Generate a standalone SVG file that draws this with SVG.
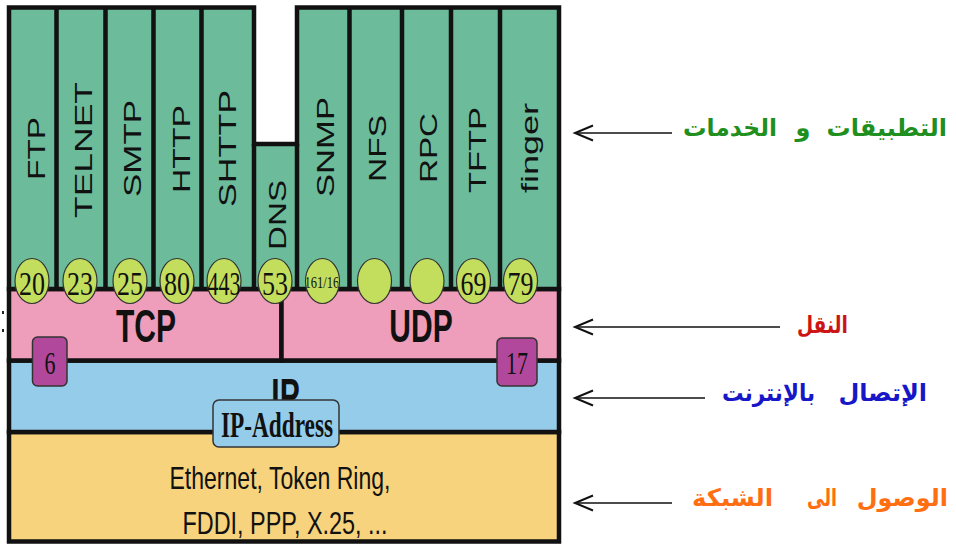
<svg xmlns="http://www.w3.org/2000/svg" width="956" height="546" viewBox="0 0 956 546">
<style>
.lay{stroke:#111;stroke-width:4.5}
.sep{stroke:#111;stroke-width:4.5;fill:none}
.vt{font-family:"Liberation Sans",Arial,sans-serif;font-size:24px;fill:#111;text-anchor:middle}
.port{fill:#c3dd5d;stroke:#333;stroke-width:1.2}
.pn{font-family:"Liberation Serif","Times New Roman",serif;font-size:26px;fill:#111;text-anchor:middle}
.big{font-family:"Liberation Sans",Arial,sans-serif;font-weight:bold;font-size:30px;fill:#111;text-anchor:middle}
.proto{fill:#b2489b;stroke:#333;stroke-width:1.5}
.pnum{font-family:"Liberation Serif","Times New Roman",serif;font-size:22px;fill:#111;text-anchor:middle}
.link{font-family:"Liberation Sans",Arial,sans-serif;font-size:22px;fill:#111;text-anchor:middle}
.ar{font-family:"DejaVu Sans","Noto Sans",sans-serif;font-weight:bold;font-size:24px;text-anchor:middle}
.are{font-family:"DejaVu Sans","Noto Sans",sans-serif;font-weight:bold;font-size:24px;text-anchor:end}
.conn{stroke:#111;stroke-width:1.4;fill:none}
.head{stroke:#111;stroke-width:2;fill:none}
</style>
<defs>
<clipPath id="c161"><ellipse cx="322.5" cy="281" rx="16" ry="21.5"/></clipPath>
<clipPath id="cip"><rect x="200" y="362" width="170" height="38"/></clipPath>
</defs>
<rect x="0" y="0" width="956" height="546" fill="#fff"/>

<g id="link-layer">
<rect class="lay" x="9" y="432" width="550" height="109.5" fill="#f6d37c"/>
<text class="link" transform="translate(280,489) scale(1,1.45)" textLength="221" lengthAdjust="spacingAndGlyphs">Ethernet, Token Ring,</text>
<text class="link" transform="translate(285,534) scale(1,1.45)" textLength="205" lengthAdjust="spacingAndGlyphs">FDDI, PPP, X.25, ...</text>
</g>

<g id="ip-layer">
<rect class="lay" x="9" y="360.5" width="550" height="71.5" fill="#95cce9"/>
<g clip-path="url(#cip)"><text class="big" transform="translate(285.5,411) scale(1,1.55)">IP</text></g>
</g>

<g id="ip-address">
<rect x="213" y="400" width="126" height="47" rx="6" fill="#95cce9" stroke="#333" stroke-width="1.5"/>
<text transform="translate(277,437) scale(1,1.45)" font-family="'Liberation Serif','Times New Roman',serif" font-weight="bold" font-size="25" fill="#111" text-anchor="middle" textLength="112" lengthAdjust="spacingAndGlyphs">IP-Address</text>
</g>

<g id="tcp">
<rect class="lay" x="9" y="289" width="272.5" height="71.5" fill="#ee9dba"/>
<text class="big" transform="translate(146,342) scale(1,1.55)">TCP</text>
</g>
<g id="udp">
<rect class="lay" x="281.5" y="289" width="277.5" height="71.5" fill="#ee9dba"/>
<text class="big" transform="translate(421,342) scale(1,1.55)">UDP</text>
</g>

<g id="proto-6">
<rect class="proto" x="32.5" y="337" width="34.5" height="49" rx="5"/>
<text class="pnum" transform="translate(50,374) scale(1,1.45)">6</text>
</g>
<g id="proto-17">
<rect class="proto" x="497" y="338" width="40" height="48" rx="5"/>
<text class="pnum" transform="translate(517,374) scale(1,1.45)">17</text>
</g>

<g id="application-layer">
<path class="lay" d="M9,7.5 H254 V144 H297 V7.5 H559 V289 H9 Z" fill="#6cbb9b"/>
<path class="sep" d="M56.5,7.5V289 M105.5,7.5V289 M153.5,7.5V289 M201.5,7.5V289 M254,144V289 M297,144V289 M349.5,7.5V289 M402,7.5V289 M451,7.5V289 M500,7.5V289"/>
</g>

<g id="app-ftp"><text class="vt" transform="translate(45,148.5) rotate(-90)" textLength="63" lengthAdjust="spacingAndGlyphs">FTP</text>
<ellipse class="port" cx="32" cy="281" rx="17" ry="22.5"/><text class="pn" transform="translate(32,295) scale(1,1.3)">20</text></g>
<g id="app-telnet"><text class="vt" transform="translate(92,150) rotate(-90)" textLength="136" lengthAdjust="spacingAndGlyphs">TELNET</text>
<ellipse class="port" cx="80" cy="281" rx="17" ry="22.5"/><text class="pn" transform="translate(80,295) scale(1,1.3)">23</text></g>
<g id="app-smtp"><text class="vt" transform="translate(141,148.5) rotate(-90)" textLength="97" lengthAdjust="spacingAndGlyphs">SMTP</text>
<ellipse class="port" cx="130" cy="281" rx="17" ry="22.5"/><text class="pn" transform="translate(130,295) scale(1,1.3)">25</text></g>
<g id="app-http"><text class="vt" transform="translate(190,149) rotate(-90)" textLength="88" lengthAdjust="spacingAndGlyphs">HTTP</text>
<ellipse class="port" cx="177" cy="281" rx="17" ry="22.5"/><text class="pn" transform="translate(177,295) scale(1,1.3)">80</text></g>
<g id="app-shttp"><text class="vt" transform="translate(236,148.5) rotate(-90)" textLength="117" lengthAdjust="spacingAndGlyphs">SHTTP</text>
<ellipse class="port" cx="224" cy="281" rx="17" ry="22.5"/><text class="pn" transform="translate(224,295) scale(1,1.3)" textLength="33" lengthAdjust="spacingAndGlyphs">443</text></g>
<g id="app-dns"><text class="vt" transform="translate(286,215) rotate(-90)" textLength="70" lengthAdjust="spacingAndGlyphs">DNS</text>
<ellipse class="port" cx="275" cy="281" rx="17" ry="22.5"/><text class="pn" transform="translate(275,295) scale(1,1.3)">53</text></g>
<g id="app-snmp"><text class="vt" transform="translate(334,147) rotate(-90)" textLength="100" lengthAdjust="spacingAndGlyphs">SNMP</text>
<ellipse class="port" cx="322.5" cy="281" rx="17" ry="22.5"/>
<g clip-path="url(#c161)"><text transform="translate(325,288) scale(1,1.3)" font-family="'Liberation Serif','Times New Roman',serif" font-size="12.5" fill="#111" text-anchor="middle">161/162</text></g></g>
<g id="app-nfs"><text class="vt" transform="translate(386,148.5) rotate(-90)" textLength="67" lengthAdjust="spacingAndGlyphs">NFS</text>
<ellipse class="port" cx="374.5" cy="281" rx="17" ry="22.5"/></g>
<g id="app-rpc"><text class="vt" transform="translate(437,148) rotate(-90)" textLength="70" lengthAdjust="spacingAndGlyphs">RPC</text>
<ellipse class="port" cx="427" cy="281" rx="17" ry="22.5"/></g>
<g id="app-tftp"><text class="vt" transform="translate(486,150) rotate(-90)" textLength="86" lengthAdjust="spacingAndGlyphs">TFTP</text>
<ellipse class="port" cx="473.5" cy="281" rx="17" ry="22.5"/><text class="pn" transform="translate(473.5,295) scale(1,1.3)">69</text></g>
<g id="app-finger"><text class="vt" transform="translate(537.5,148) rotate(-90)" textLength="90" lengthAdjust="spacingAndGlyphs">finger</text>
<ellipse class="port" cx="520.5" cy="281" rx="17" ry="22.5"/><text class="pn" transform="translate(520.5,295) scale(1,1.3)">79</text></g>

<g id="marks" fill="#222">
<rect x="2" y="311" width="2" height="3"/>
<rect x="2" y="329" width="2" height="3"/>
</g>

<g id="label-applications">
<text class="are" fill="#1f8f1f" x="947" y="136">التطبيقات</text>
<text class="ar" fill="#1f8f1f" x="803" y="136">و</text>
<text class="ar" fill="#1f8f1f" x="730" y="136" textLength="94" lengthAdjust="spacingAndGlyphs">الخدمات</text>
</g>
<g id="label-transport">
<text class="ar" fill="#cc1414" x="822.5" y="333" textLength="51" lengthAdjust="spacingAndGlyphs">النقل</text>
</g>
<g id="label-internet">
<text class="are" fill="#1717c8" x="927" y="401">الإتصال</text>
<text class="ar" fill="#1717c8" x="768.5" y="401" textLength="93" lengthAdjust="spacingAndGlyphs">بالإنترنت</text>
</g>
<g id="label-network">
<text class="are" fill="#ff6f12" x="948" y="506">الوصول</text>
<text class="ar" fill="#ff6f12" x="822" y="506" textLength="30" lengthAdjust="spacingAndGlyphs">الى</text>
<text class="ar" fill="#ff6f12" x="732.5" y="506" textLength="81" lengthAdjust="spacingAndGlyphs">الشبكة</text>
</g>

<g id="connectors">
<path class="conn" d="M575,133H672"/><path class="head" d="M593,125.5L575,133L593,140.5"/>
<path class="conn" d="M575,327H780"/><path class="head" d="M593,319.5L575,327L593,334.5"/>
<path class="conn" d="M575,398H705"/><path class="head" d="M593,390.5L575,398L593,405.5"/>
<path class="conn" d="M575,503H672"/><path class="head" d="M593,495.5L575,503L593,510.5"/>
</g>
</svg>
